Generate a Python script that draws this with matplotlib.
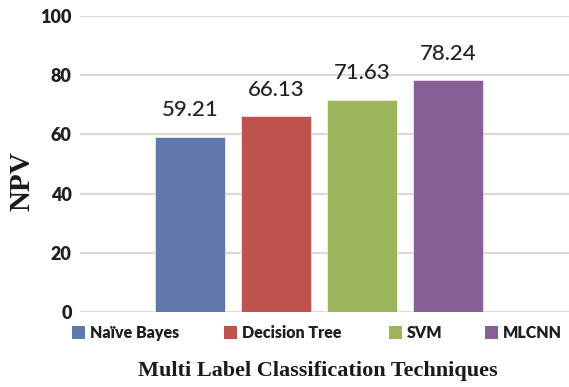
import matplotlib
matplotlib.use("Agg")
import matplotlib.pyplot as plt
from matplotlib.patches import Patch

techniques = ["Naïve Bayes", "Decision Tree", "SVM", "MLCNN"]
npv_values = [59.21, 66.13, 71.63, 78.24]
bar_colors = ["#6079AD", "#BE524C", "#9CB55A", "#855F95"]
y_ticks = [0, 20, 40, 60, 80, 100]

W, H = 569, 387
fig = plt.figure(figsize=(W / 100, H / 100), dpi=100)
ax = fig.add_axes([80 / W, 1 - 312 / H, 1 - 80 / W, (312 - 16) / H])

positions = list(range(len(techniques)))
bars = ax.bar(positions, npv_values, width=0.81, color=bar_colors,
              edgecolor="white", linewidth=0.4, zorder=3)

for x, v in zip(positions, npv_values):
    ax.annotate(f"{v:.2f}", (x, v), xytext=(0, 12), textcoords="offset points",
                ha="center", va="bottom", fontsize=16, family="Lato",
                fontweight="medium", color="#222222")

ax.set_xlim(-1.28, 4.41)
ax.set_ylim(0, 100)
ax.set_yticks(y_ticks)
ax.set_yticklabels([str(t) for t in y_ticks], fontsize=13, family="Lato",
                   fontweight="heavy", color="#1f1f1f")
ax.set_xticks([])
ax.tick_params(axis="y", length=0, pad=6)
ax.yaxis.grid(True, color="#DDD9D3", linewidth=1.6, zorder=0)
for s in ax.spines.values():
    s.set_visible(False)

fig.text(22 / W, 1 - 181 / H, "NPV", rotation=90, ha="center", va="center",
         fontsize=21, family="Liberation Serif", fontweight="bold",
         color="#1a1a1a")
fig.text(318 / W, 1 - 371 / H, "Multi Label Classification Techniques",
         ha="center", va="center", fontsize=16, family="Liberation Serif",
         fontweight="bold", color="#1a1a1a")

# legend entries placed individually along the bottom row
legend_x = [72, 224, 389, 485]
for name, color, lx in zip(techniques, bar_colors, legend_x):
    leg = fig.legend([Patch(facecolor=color, edgecolor="none")], [name],
                     frameon=False, loc="center left",
                     bbox_to_anchor=(lx / W, 1 - 333 / H),
                     prop={"family": "Lato", "weight": "heavy", "size": 11.5},
                     handlelength=0.8, handleheight=0.8, handletextpad=0.3,
                     borderpad=0, borderaxespad=0)
    for t in leg.get_texts():
        t.set_color("#1f1f1f")

fig.savefig("out.png", dpi=100, facecolor="white")
